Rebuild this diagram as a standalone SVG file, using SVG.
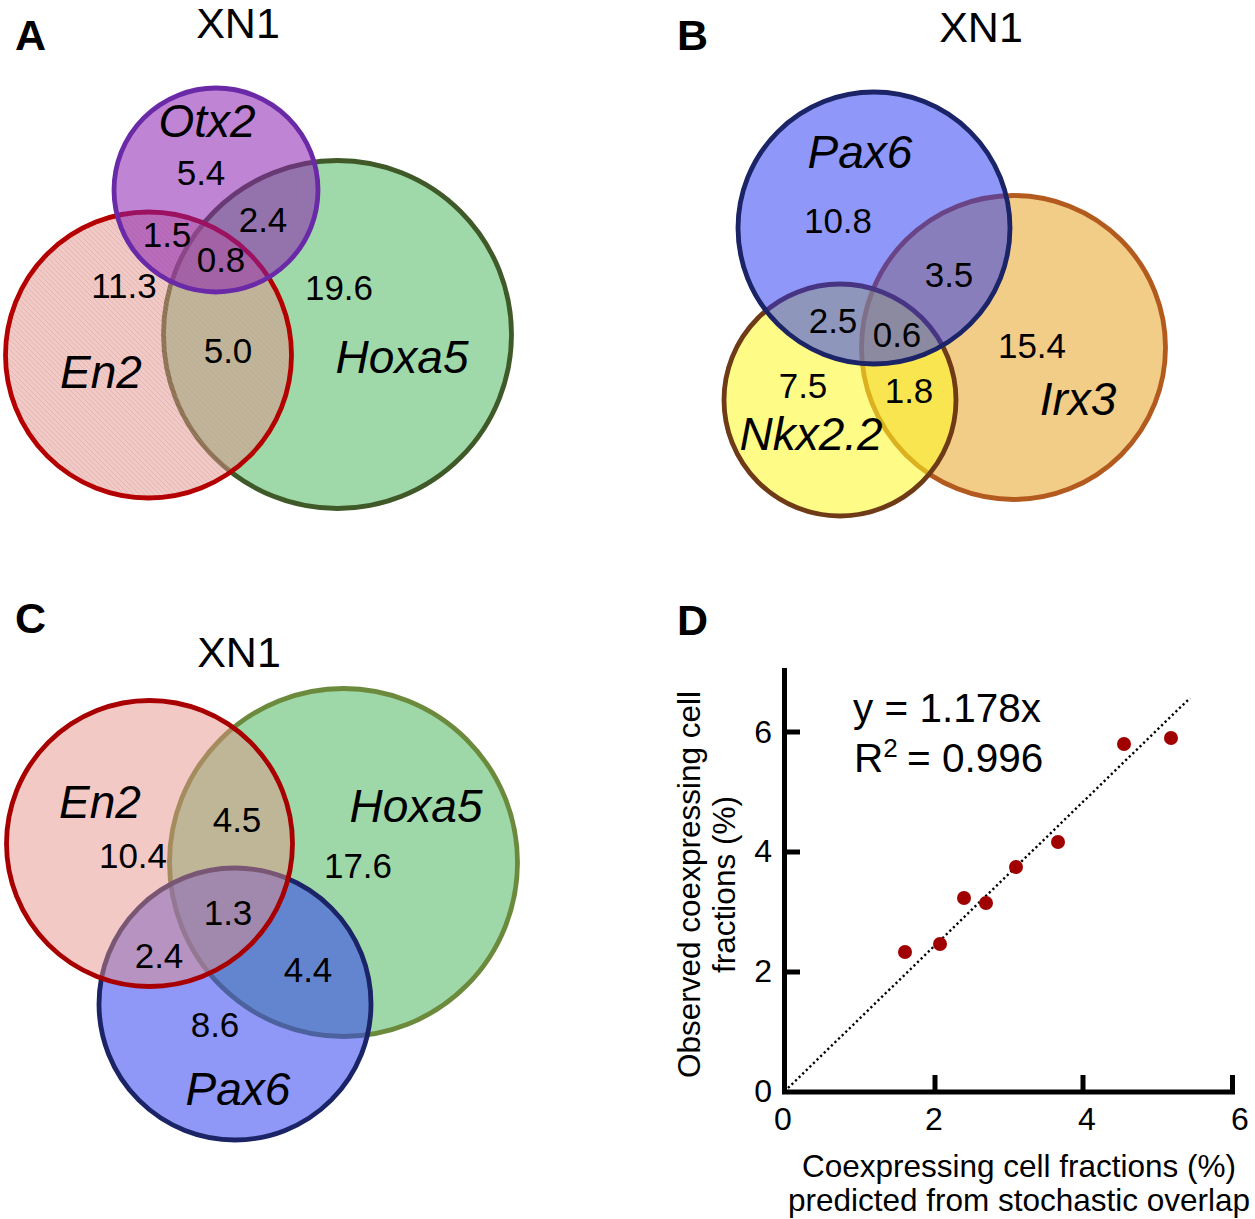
<svg xmlns="http://www.w3.org/2000/svg" width="1255" height="1219" viewBox="0 0 1255 1219">
<style>
text{font-family:"Liberation Sans",Arial,Helvetica,sans-serif;fill:#000}
.panel{font-weight:bold;font-size:43px}
.title{font-size:43px;text-anchor:middle}
.gene{font-style:italic;font-size:46px;text-anchor:middle}
.num{font-size:35px;text-anchor:middle}
.tick{font-size:32px}
.axt{font-size:31.5px;text-anchor:middle}
.eq{font-size:40.5px}
.c{stroke-width:4.8}
</style>
<defs>
<pattern id="hatch" patternUnits="userSpaceOnUse" width="5" height="5">
<path d="M0,0 L5,5 M-1,4 L1,6 M4,-1 L6,1" stroke="#b89896" stroke-opacity="0.55" stroke-width="0.6" fill="none"/>
</pattern>
</defs>
<rect width="1255" height="1219" fill="#fff"/>

<!-- Panel A -->
<g id="panelA">
<text class="panel" x="15" y="50">A</text>
<text class="title" x="238" y="38">XN1</text>
<g id="A-Hoxa5">
<circle class="c" cx="337.5" cy="334.5" r="174" fill="#9fd9a9" stroke="#3f5a28"/>
</g>
<g id="A-En2">
<circle cx="148.5" cy="355" r="143" fill="#e38e85" fill-opacity="0.48"/>
<circle cx="148.5" cy="355" r="143" fill="url(#hatch)"/>
<circle class="c" cx="148.5" cy="355" r="143" fill="none" stroke="#b40000"/>
</g>
<g id="A-Otx2">
<circle class="c" cx="216" cy="190" r="102" fill="#8a1fb0" fill-opacity="0.55" stroke="#6a2aa8"/>
</g>
<g id="A-labels">
<text class="gene" x="207" y="137">Otx2</text>
<text class="num" x="201" y="185">5.4</text>
<text class="num" x="263" y="232">2.4</text>
<text class="num" x="167" y="247">1.5</text>
<text class="num" x="221" y="272">0.8</text>
<text class="num" x="124" y="298">11.3</text>
<text class="num" x="339" y="300">19.6</text>
<text class="num" x="228" y="363">5.0</text>
<text class="gene" x="101" y="388">En2</text>
<text class="gene" x="402" y="373">Hoxa5</text>
</g>
</g>

<!-- Panel B -->
<g id="panelB">
<text class="panel" x="677" y="50">B</text>
<text class="title" x="981" y="42">XN1</text>
<g id="B-Irx3">
<circle class="c" cx="1013.5" cy="347.5" r="152" fill="#f2cd87" stroke="#b35a1e"/>
</g>
<g id="B-Nkx22">
<circle class="c" cx="840" cy="400" r="116" fill="#fdf923" fill-opacity="0.55" stroke="#6e3b16"/>
</g>
<g id="B-Pax6">
<circle class="c" cx="874" cy="228" r="136" fill="#2030f2" fill-opacity="0.5" stroke="#1a2466"/>
</g>
<g id="B-labels">
<text class="gene" x="860" y="168">Pax6</text>
<text class="num" x="838" y="233">10.8</text>
<text class="num" x="949" y="287">3.5</text>
<text class="num" x="833" y="333">2.5</text>
<text class="num" x="897" y="347">0.6</text>
<text class="num" x="1032" y="358">15.4</text>
<text class="num" x="803" y="398">7.5</text>
<text class="num" x="909" y="403">1.8</text>
<text class="gene" x="811" y="450">Nkx2.2</text>
<text class="gene" x="1078" y="415">Irx3</text>
</g>
</g>

<!-- Panel C -->
<g id="panelC">
<text class="panel" x="15" y="633">C</text>
<text class="title" x="239" y="667">XN1</text>
<g id="C-Hoxa5">
<circle class="c" cx="343.5" cy="862.5" r="174" fill="#9ed8a8" stroke="#6b8a3b"/>
</g>
<g id="C-Pax6">
<circle class="c" cx="235" cy="1004" r="136" fill="#3341f0" fill-opacity="0.55" stroke="#1a2466"/>
</g>
<g id="C-En2">
<circle class="c" cx="149.5" cy="843.5" r="143" fill="#e38e85" fill-opacity="0.48" stroke="#a80000"/>
</g>
<g id="C-labels">
<text class="gene" x="100" y="818">En2</text>
<text class="num" x="237" y="832">4.5</text>
<text class="gene" x="416" y="822">Hoxa5</text>
<text class="num" x="133" y="868">10.4</text>
<text class="num" x="358" y="878">17.6</text>
<text class="num" x="228" y="925">1.3</text>
<text class="num" x="159" y="968">2.4</text>
<text class="num" x="308" y="982">4.4</text>
<text class="num" x="215" y="1037">8.6</text>
<text class="gene" x="238" y="1105">Pax6</text>
</g>
</g>

<!-- Panel D -->
<g id="panelD">
<text class="panel" x="677" y="635">D</text>
<g id="D-axes" fill="none" stroke="#000" stroke-width="5">
<path d="M784.5,668 V1092 H1235"/>
<path d="M784,732 H800 M784,852 H800 M784,972 H800"/>
<path d="M935,1092 V1075 M1083,1092 V1075 M1232.5,1092 V1075"/>
</g>
<g id="D-ticklabels">
<text class="tick" x="772" y="743" text-anchor="end">6</text>
<text class="tick" x="772" y="862" text-anchor="end">4</text>
<text class="tick" x="772" y="982" text-anchor="end">2</text>
<text class="tick" x="772" y="1102" text-anchor="end">0</text>
<text class="tick" x="783" y="1130" text-anchor="middle">0</text>
<text class="tick" x="934" y="1130" text-anchor="middle">2</text>
<text class="tick" x="1087" y="1130" text-anchor="middle">4</text>
<text class="tick" x="1240" y="1130" text-anchor="middle">6</text>
</g>
<g id="D-fit">
<path d="M788,1088 L1190,698" stroke="#000" stroke-width="2.4" stroke-dasharray="2.2 2.8" fill="none"/>
</g>
<g id="D-points" fill="#a00000">
<circle cx="905" cy="952" r="7"/>
<circle cx="940" cy="944" r="7"/>
<circle cx="964" cy="898" r="7"/>
<circle cx="986" cy="903" r="7"/>
<circle cx="1016" cy="867" r="7"/>
<circle cx="1058" cy="842" r="7"/>
<circle cx="1124" cy="744" r="7"/>
<circle cx="1171" cy="738" r="7"/>
</g>
<g id="D-equation">
<text class="eq" x="853" y="722">y = 1.178x</text>
<text class="eq" x="854" y="772">R<tspan font-size="26" dy="-15">2</tspan><tspan x="907" dy="15">= 0.996</tspan></text>
</g>
<g id="D-axis-titles">
<text class="axt" x="1019" y="1177">Coexpressing cell fractions (%)</text>
<text class="axt" x="1019" y="1211">predicted from stochastic overlap</text>
<text class="axt" transform="translate(700,884.5) rotate(-90)" x="0" y="0">Observed coexpressing cell</text>
<text class="axt" transform="translate(735,884.5) rotate(-90)" x="0" y="0">fractions (%)</text>
</g>
</g>
</svg>
